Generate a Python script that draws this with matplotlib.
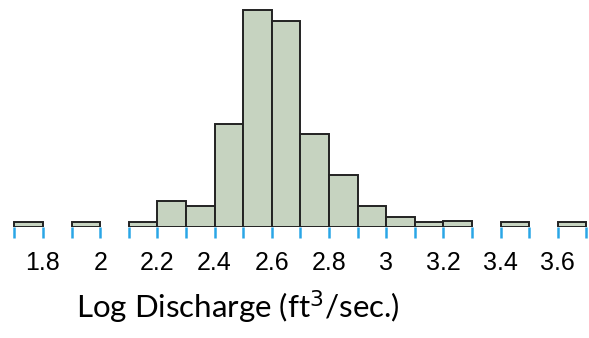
import matplotlib.pyplot as plt
import numpy as np

# bin edges (left) and counts, width 0.1
bin_left = [1.7, 1.8, 1.9, 2.0, 2.1, 2.2, 2.3, 2.4, 2.5, 2.6,
            2.7, 2.8, 2.9, 3.0, 3.1, 3.2, 3.3, 3.4, 3.5, 3.6]
counts = [1, 0, 1, 0, 1, 5, 4, 20, 42, 40,
          18, 10, 4, 2, 1, 1.2, 0, 1, 0, 1]
tick_labels = ["1.8", "2", "2.2", "2.4", "2.6", "2.8", "3", "3.2", "3.4", "3.6"]
label_pos = [1.8, 2.0, 2.2, 2.4, 2.6, 2.8, 3.0, 3.2, 3.4, 3.6]

fig = plt.figure(figsize=(5.89, 3.38), dpi=100)
ax = fig.add_axes([0, 111 / 338, 1, 227 / 338])

for x, c in zip(bin_left, counts):
    if c > 0:
        ax.bar(x, c, width=0.1, align="edge", color="#c6d3c0",
               edgecolor="#222222", linewidth=1.4)

ax.set_xlim(1.6497, 3.709)
ax.set_ylim(0, 44)
for s in ax.spines.values():
    s.set_visible(False)
ax.set_yticks([])

# blue ticks at every bin edge
edges = np.round(np.arange(1.7, 3.71, 0.1), 2)
ax.set_xticks(edges, minor=True)
ax.tick_params(axis="x", which="minor", length=8, width=1.8, color="#2aa6e6")
ax.set_xticks(label_pos)
ax.set_xticklabels(tick_labels, fontfamily="Liberation Sans", fontsize=18)
ax.tick_params(axis="x", which="major", length=8, width=1.8, color="#2aa6e6", pad=9)

fig.text(238 / 589, 1 - 307 / 338, "Log Discharge (ft$^3$/sec.)",
         ha="center", va="center", fontsize=22.5, fontfamily="Lato")

fig.savefig("out.png", dpi=100)
